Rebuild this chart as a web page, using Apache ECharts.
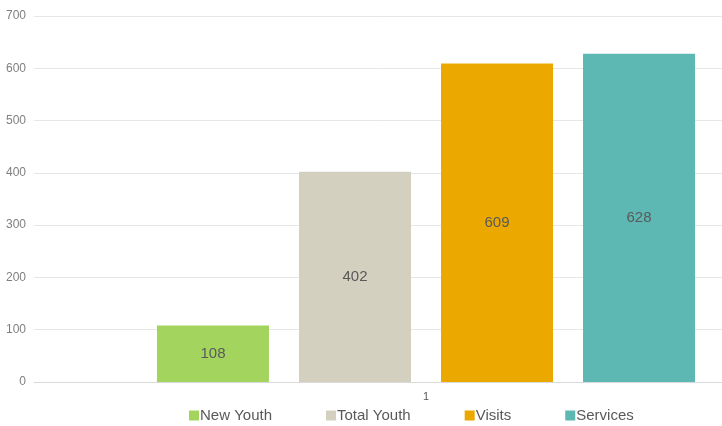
<!DOCTYPE html>
<html>
<head>
<meta charset="utf-8">
<script src="https://cdn.jsdelivr.net/npm/echarts@6/dist/echarts.min.js"></script>
<style>
    html, body { margin: 0; padding: 0; background: #fff; }
    #myChart { width: 722px; height: 426px; }
</style>
</head>
<body>
<div id="myChart"></div>
<script>
var categories = ['1'];
var seriesNames = ['New Youth', 'Total Youth', 'Visits', 'Services'];
var newYouth = [108];
var totalYouth = [402];
var visits = [609];
var services = [628];
var colors = ['#a3d55e', '#d4d0c0', '#eba900', '#5db8b3'];

var makeBar = function (name, data, color) {
    return {
        name: name,
        type: 'bar',
        data: data,
        barWidth: 112,
        barGap: '26.8%',
        itemStyle: { color: color },
        label: {
            show: true,
            position: 'inside',
            color: '#595959',
            fontSize: 15,
            fontFamily: 'Liberation Sans'
        }
    };
};

var myChart = echarts.init(document.getElementById('myChart')),
    option = {
        animation: false,
        textStyle: { fontFamily: 'Liberation Sans' },
        grid: {
            left: 34,
            top: 16,
            bottom: 44,
            width: 784,
            outerBoundsMode: 'none'
        },
        legend: {
            data: seriesNames,
            bottom: -2,
            left: 184,
            itemWidth: 10,
            itemHeight: 10,
            itemGap: 54,
            icon: 'rect',
            textStyle: { color: '#595959', fontSize: 15, padding: [0, 0, 0, -4] }
        },
        xAxis: {
            type: 'category',
            data: categories,
            axisLine: { lineStyle: { color: '#d9d9d9' } },
            axisTick: { show: false },
            axisLabel: { color: '#595959', fontSize: 11, margin: 9 }
        },
        yAxis: {
            type: 'value',
            min: 0,
            max: 700,
            interval: 100,
            axisLine: { show: false },
            axisTick: { show: false },
            axisLabel: { color: '#7f7f7f', fontSize: 12, margin: 8 },
            splitLine: { lineStyle: { color: '#e6e6e6' } }
        },
        series: [
            makeBar(seriesNames[0], newYouth, colors[0]),
            makeBar(seriesNames[1], totalYouth, colors[1]),
            makeBar(seriesNames[2], visits, colors[2]),
            makeBar(seriesNames[3], services, colors[3])
        ]
    };
myChart.setOption(option);
</script>
</body>
</html>
